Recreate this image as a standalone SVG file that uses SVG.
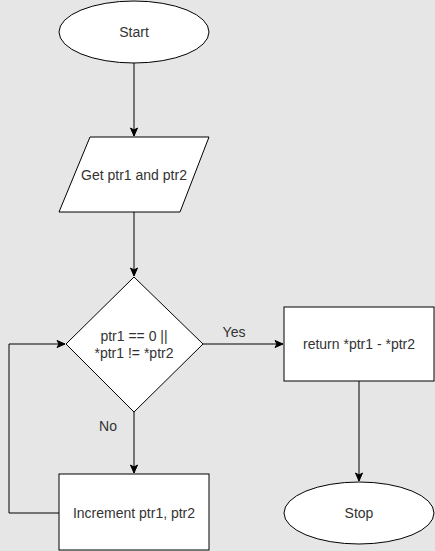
<svg xmlns="http://www.w3.org/2000/svg" width="435" height="551" viewBox="0 0 435 551">
<style>
.shape{fill:#ffffff;stroke:#000000;stroke-width:1}
.edge{fill:none;stroke:#000000;stroke-width:1}
text{font-family:"Liberation Sans",Arial,sans-serif;font-size:14px;fill:#333333;text-anchor:middle;dominant-baseline:central}
</style>
<defs>
<marker id="arr" markerWidth="10" markerHeight="10" refX="9" refY="5" orient="auto" markerUnits="userSpaceOnUse">
<path d="M1,1.5 L9,5 L1,8.5 L3,5 Z" fill="#000000" stroke="#000000" stroke-width="1"/>
</marker>
</defs>
<rect x="0" y="0" width="435" height="551" fill="#e6e6e6"/>
<g id="connectors">
<path class="edge" d="M134,63 L134,136" marker-end="url(#arr)"/>
<path class="edge" d="M134,212 L134,276" marker-end="url(#arr)"/>
<path class="edge" d="M203,344 L283,344" marker-end="url(#arr)"/>
<path class="edge" d="M134,412 L134,473" marker-end="url(#arr)"/>
<path class="edge" d="M359,381 L359,481" marker-end="url(#arr)"/>
<path class="edge" d="M59,513 L9,513 L9,344 L65,344" marker-end="url(#arr)"/>
<text x="234" y="332">Yes</text>
<text x="108" y="426">No</text>
</g>
<g id="start">
<ellipse class="shape" cx="134" cy="32" rx="75" ry="31"/>
<text x="134" y="32">Start</text>
</g>
<g id="input">
<path class="shape" d="M90,137 L209,137 L180,212 L59,212 Z"/>
<text x="134" y="175">Get ptr1 and ptr2</text>
</g>
<g id="decision">
<path class="shape" d="M134,277 L203,344 L134,412 L66,344 Z"/>
<text x="134" y="336">ptr1 == 0 ||</text>
<text x="134" y="353">*ptr1 != *ptr2</text>
</g>
<g id="return">
<rect class="shape" x="284" y="307" width="150" height="74"/>
<text x="359" y="344">return *ptr1 - *ptr2</text>
</g>
<g id="increment">
<rect class="shape" x="59" y="474" width="150" height="76"/>
<text x="134" y="513">Increment ptr1, ptr2</text>
</g>
<g id="stop">
<ellipse class="shape" cx="359" cy="513" rx="75" ry="31"/>
<text x="359" y="513">Stop</text>
</g>
</svg>
